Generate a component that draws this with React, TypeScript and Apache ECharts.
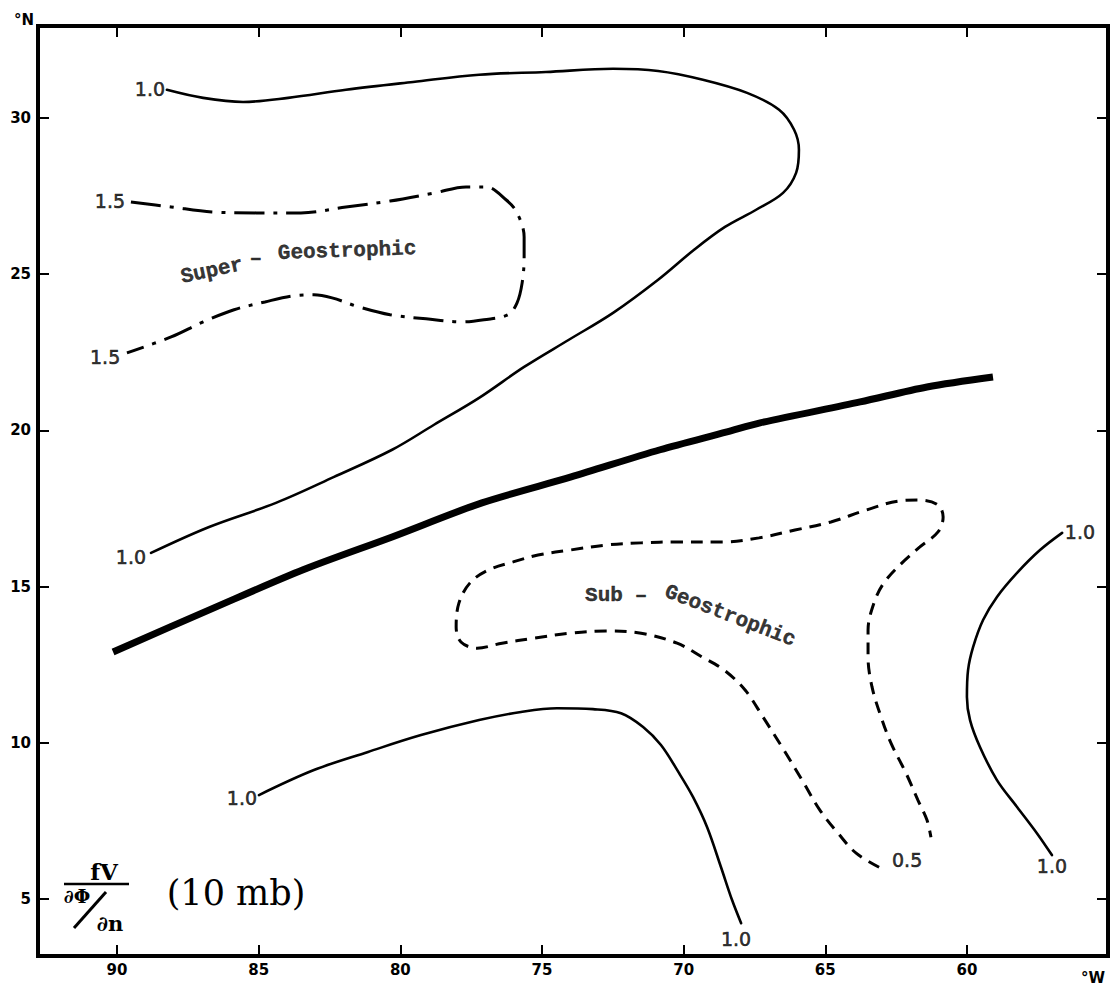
import React, { useEffect, useRef } from "react";
import * as echarts from "echarts";

type Pt = [number, number];

// Axis values (degrees West longitude, degrees North latitude)
const lonTicks = [90, 85, 80, 75, 70, 65, 60];
const latTicks = [5, 10, 15, 20, 25, 30];
const lonExtent = [55.02, 92.79];
const latExtent = [3.18, 32.94];

// Northern 1.0 isoline
const contour10North: Pt[] = [
  [88.24, 30.9], [86.96, 30.64], [85.55, 30.51], [83.96, 30.64], [81.92, 30.9],
  [79.55, 31.15], [77.22, 31.38], [74.86, 31.47], [72.49, 31.57], [70.9, 31.5],
  [69.32, 31.22], [67.76, 30.8], [66.63, 30.26], [66.1, 29.62], [65.93, 28.98],
  [66.03, 28.24], [66.49, 27.6], [67.44, 27.06], [68.54, 26.51], [69.63, 25.78],
  [70.9, 24.82], [72.49, 23.76], [74.05, 22.9], [75.63, 22.03], [77.22, 21.04],
  [78.81, 20.18], [80.29, 19.38], [82.34, 18.51], [84.39, 17.68], [86.75, 16.91],
  [88.8, 16.08],
];

// 1.5 isoline (dash-dot)
const contour15: Pt[] = [
  [89.51, 27.31], [88.09, 27.15], [86.65, 26.99], [85.09, 26.96], [83.51, 26.96],
  [81.92, 27.15], [80.36, 27.34], [78.78, 27.6], [77.68, 27.79], [76.97, 27.79],
  [76.27, 27.38], [75.88, 26.96], [75.63, 26.19], [75.63, 25.55], [75.7, 24.72],
  [75.88, 24.08], [76.2, 23.7], [77.05, 23.54], [77.82, 23.47], [79.09, 23.57],
  [80.36, 23.7], [81.46, 23.95], [82.41, 24.24], [83.05, 24.34], [83.82, 24.3],
  [84.78, 24.11], [85.87, 23.86], [86.96, 23.47], [88.09, 22.99], [89.65, 22.48],
];

// Heavy line (axis)
const heavyLine: Pt[] = [
  [90.14, 12.91], [86.58, 14.32], [83.43, 15.54], [80.29, 16.59], [77.12, 17.68],
  [73.97, 18.51], [70.83, 19.38], [68.47, 19.95], [67.3, 20.24], [63.77, 20.91],
  [61.41, 21.39], [59.08, 21.71],
];

// 0.5 isoline (dashed)
const contour05: Pt[] = [
  [63.1, 6.02], [63.91, 6.47], [64.55, 7.11], [65.19, 7.85], [65.82, 8.81],
  [66.46, 9.77], [67.2, 10.83], [67.83, 11.69], [68.57, 12.33], [69.35, 12.75],
  [70.23, 13.19], [71.5, 13.51], [72.74, 13.58], [74.01, 13.51], [75.28, 13.35],
  [76.41, 13.19], [77.29, 13.03], [77.86, 13.23], [78.03, 13.71], [77.93, 14.48],
  [77.54, 15.12], [76.9, 15.53], [76.02, 15.79], [75.14, 16.01], [74.01, 16.17],
  [72.74, 16.33], [71.5, 16.4], [70.23, 16.43], [68.57, 16.43], [67.34, 16.56],
  [66.07, 16.81], [64.8, 17.07], [63.56, 17.45], [62.4, 17.74], [61.66, 17.77],
  [61.02, 17.61], [60.84, 17.23], [61.02, 16.75], [61.66, 16.27], [62.29, 15.76],
  [62.93, 15.12], [63.28, 14.48], [63.49, 13.61], [63.49, 12.75], [63.35, 11.79],
  [63.03, 10.83], [62.68, 9.99], [62.15, 9.03], [61.73, 8.17], [61.41, 7.53],
  [61.27, 6.98],
];

// Southern 1.0 isoline
const contour10South: Pt[] = [
  [84.99, 8.33], [83.05, 9.13], [81.14, 9.71], [79.27, 10.25], [77.22, 10.73],
  [75.74, 10.99], [74.47, 11.11], [73.2, 11.08], [72.21, 10.95], [71.43, 10.51],
  [70.8, 9.93], [70.16, 9.03], [69.67, 8.27], [69.17, 7.3], [68.68, 6.02],
  [68.29, 4.97], [67.97, 4.23],
];

// Eastern 1.0 isoline
const contour10East: Pt[] = [
  [56.64, 16.72], [57.42, 16.17], [58.23, 15.44], [58.94, 14.67], [59.43, 13.93],
  [59.78, 13.07], [59.96, 12.33], [60.0, 11.47], [59.89, 10.73], [59.54, 9.87],
  [58.94, 8.81], [58.23, 7.95], [57.53, 7.11], [57.0, 6.41],
];

// Isoline value labels [lon, lat, text]
const contourLabels: [number, number, string][] = [
  [88.84, 30.93, "1.0"],
  [89.51, 15.95, "1.0"],
  [90.25, 27.34, "1.5"],
  [90.42, 22.35, "1.5"],
  [62.11, 6.25, "0.5"],
  [85.59, 8.23, "1.0"],
  [68.15, 3.72, "1.0"],
  [56.01, 16.75, "1.0"],
  [57.0, 6.06, "1.0"],
];

// Region annotations [lon, lat, text]
const regionTexts: [number, number, string][] = [
  [86.65, 25.1, "Super"],
  [85.1, 25.49, "\u2013"],
  [81.88, 25.74, "Geostrophic"],
  [72.81, 14.73, "Sub"],
  [71.5, 14.73, "\u2013"],
  [68.36, 14.06, "Geostrophic"],
];
const regionTextAngles = [12, 0, 2, 0, 0, -21];

export default function App() {
  const ref = useRef<HTMLDivElement>(null);

  useEffect(() => {
    document.body.style.margin = "0";
    const chart = echarts.init(ref.current as HTMLDivElement, null, { renderer: "svg" });

    const line = (name: string, data: Pt[], width: number, type: any, cap: string, smooth = 0.35) => ({
      name,
      type: "line",
      data,
      symbol: "none",
      showSymbol: false,
      smooth,
      silent: true,
      z: 3,
      lineStyle: { color: "#000", width, type, cap },
    });

    const xCommon = {
      type: "value",
      inverse: true,
      min: lonExtent[0],
      max: lonExtent[1],
      splitLine: { show: false },
      axisLine: { show: false, onZero: false },
      axisTick: {
        show: true,
        inside: true,
        length: 11,
        customValues: lonTicks,
        lineStyle: { color: "#000", width: 2 },
      },
    };
    const yCommon = {
      type: "value",
      min: latExtent[0],
      max: latExtent[1],
      splitLine: { show: false },
      axisLine: { show: false, onZero: false },
      axisTick: {
        show: true,
        inside: true,
        length: 11,
        customValues: latTicks,
        lineStyle: { color: "#000", width: 2 },
      },
    };
    const tickFont = {
      color: "#000",
      fontSize: 15,
      fontWeight: "bold",
      fontFamily: "DejaVu Sans",
    };

    const option: any = {
      animation: false,
      backgroundColor: "#fff",
      grid: {
        left: 38,
        right: 6,
        top: 26,
        bottom: 34,
        show: true,
        borderColor: "#000",
        borderWidth: 4,
        containLabel: false,
        outerBoundsMode: "none",
      },
      xAxis: [
        {
          ...xCommon,
          position: "bottom",
          axisLabel: { ...tickFont, customValues: lonTicks, margin: 6 },
        },
        { ...xCommon, position: "top", axisLabel: { show: false } },
      ],
      yAxis: [
        {
          ...yCommon,
          position: "left",
          axisLabel: { ...tickFont, customValues: latTicks, margin: 7 },
        },
        { ...yCommon, position: "right", axisLabel: { show: false } },
      ],
      series: [
        line("1.0 north", contour10North, 2.6, "solid", "round"),
        line("1.5", contour15, 3, [30, 9, 4, 9], "butt"),
        line("heavy", heavyLine, 7, "solid", "butt", 0.3),
        line("0.5", contour05, 3, [12, 8], "butt"),
        line("1.0 south", contour10South, 2.6, "solid", "round"),
        line("1.0 east", contour10East, 2.6, "solid", "round"),
        {
          name: "isoline labels",
          type: "scatter",
          symbolSize: 0,
          silent: true,
          z: 5,
          itemStyle: { color: "#000" },
          data: contourLabels.map((d) => ({ value: [d[0], d[1]], name: d[2] })),
          label: {
            show: true,
            position: "inside",
            formatter: (p: any) => p.name,
            color: "#000",
            textBorderColor: "#000",
            textBorderWidth: 0.6,
            fontSize: 19,
            fontFamily: "DejaVu Sans",
          },
        },
        {
          name: "regions",
          type: "scatter",
          symbolSize: 0,
          silent: true,
          z: 5,
          itemStyle: { color: "#000" },
          data: regionTexts.map((d, i) => ({
            value: [d[0], d[1]],
            name: d[2],
            label: { rotate: regionTextAngles[i] },
          })),
          label: {
            show: true,
            position: "inside",
            formatter: (p: any) => p.name,
            color: "#000",
            textBorderColor: "#000",
            textBorderWidth: 0.4,
            fontSize: 21,
            fontWeight: "bold",
            fontFamily: "Liberation Mono",
          },
        },
      ],
      graphic: [
        {
          type: "text",
          x: 24,
          y: 20,
          style: {
            text: "°N",
            fill: "#000",
            font: "bold 15px 'DejaVu Sans'",
            align: "center",
            verticalAlign: "middle",
          },
        },
        {
          type: "text",
          x: 1093,
          y: 978,
          style: {
            text: "°W",
            fill: "#000",
            font: "bold 15px 'DejaVu Sans'",
            align: "center",
            verticalAlign: "middle",
          },
        },
        {
          type: "text",
          x: 104,
          y: 871,
          style: {
            text: "fV",
            fill: "#000",
            font: "bold 23px 'DejaVu Serif'",
            align: "center",
            verticalAlign: "middle",
          },
        },
        {
          type: "line",
          shape: { x1: 64, y1: 884, x2: 129, y2: 884 },
          style: { stroke: "#000", lineWidth: 2.5 },
        },
        {
          type: "text",
          x: 77,
          y: 896,
          style: {
            text: "∂Φ",
            fill: "#000",
            font: "bold 19px 'DejaVu Serif'",
            align: "center",
            verticalAlign: "middle",
          },
        },
        {
          type: "line",
          shape: { x1: 74, y1: 928, x2: 106, y2: 892 },
          style: { stroke: "#000", lineWidth: 3 },
        },
        {
          type: "text",
          x: 110,
          y: 923,
          style: {
            text: "∂n",
            fill: "#000",
            font: "bold 21px 'DejaVu Serif'",
            align: "center",
            verticalAlign: "middle",
          },
        },
        {
          type: "text",
          x: 236,
          y: 893,
          style: {
            text: "(10 mb)",
            fill: "#000",
            font: "35px 'DejaVu Serif'",
            align: "center",
            verticalAlign: "middle",
          },
        },
      ],
    };

    chart.setOption(option);
    return () => chart.dispose();
  }, []);

  return <div ref={ref} style={{ width: 1114, height: 990 }} />;
}
